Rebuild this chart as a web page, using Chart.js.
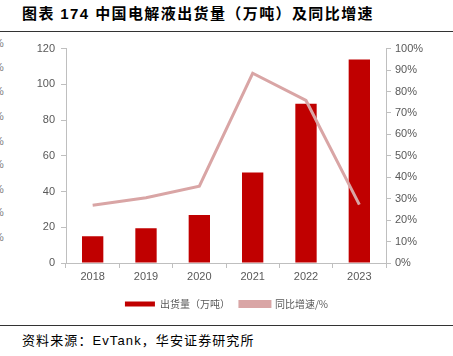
<!DOCTYPE html>
<html><head><meta charset="utf-8">
<script src="https://cdn.jsdelivr.net/npm/chart.js@4/dist/chart.umd.min.js"></script>
<style>
html,body{margin:0;padding:0;background:#fff;width:453px;height:356px;overflow:hidden;position:relative;font-family:"Liberation Sans","Noto Sans CJK SC",sans-serif;}
#title{position:absolute;left:22px;top:2px;font-size:15px;font-weight:bold;color:#000;font-family:"Liberation Sans","Noto Sans CJK SC",sans-serif;letter-spacing:1.4px;white-space:nowrap;}
#rule1{position:absolute;left:0;top:31px;width:453px;height:1px;background:#333;}
#rule2{position:absolute;left:0;top:325px;width:453px;height:1px;background:#333;}
#src{position:absolute;left:22px;top:330px;font-size:13px;color:#000;white-space:nowrap;letter-spacing:1.1px;font-family:"Liberation Sans","Noto Sans CJK SC",sans-serif;}
#wrap{position:absolute;left:0;top:36px;width:453px;height:284px;}
.pct{position:absolute;left:-6px;font-size:11px;color:#808080;}
</style></head><body>
<div id="title">图表 174 中国电解液出货量（万吨）及同比增速</div>
<div id="rule1"></div>
<div id="pcts"></div>
<div id="wrap"><canvas id="c" width="453" height="284"></canvas></div>
<div id="rule2"></div>
<div id="src">资料来源：EvTank，华安证券研究所</div>
<script>
const categories = ['2018','2019','2020','2021','2022','2023'];
const shipment = [15, 19.5, 26.8, 50.6, 89.2, 113.9];
const growth = [0.269, 0.304, 0.358, 0.885, 0.758, 0.272];
const shipmentLabel = '出货量（万吨）';
const growthLabel = '同比增速/%';

// cut-off fragments at left edge
const pctYs = [37,61,85,110,135,158,183,206,231];
const pc = document.getElementById('pcts');
pctYs.forEach(y=>{const d=document.createElement('div');d.className='pct';d.style.top=y+'px';d.textContent='%';pc.appendChild(d);});

const axisColor = '#bfbfbf';
const tickFont = {family:'Liberation Sans', size:11};
new Chart(document.getElementById('c'), {
  data: {
    labels: categories,
    datasets: [
      {type:'bar', label: shipmentLabel, data: shipment, backgroundColor:'#c00000', borderWidth:0,
       barPercentage:0.4, categoryPercentage:1, yAxisID:'y', order:2},
      {type:'line', label: growthLabel, data: growth, borderColor:'#d9a5a5', backgroundColor:'#d9a5a5',
       borderWidth:3, pointRadius:0, tension:0, yAxisID:'y1', order:1}
    ]
  },
  options: {
    responsive:false, animation:false,
    layout:{padding:{top:8,left:0,right:0,bottom:1}},
    plugins:{
      legend:{position:'bottom', labels:{boxWidth:30, boxHeight:5, font:{family:'Noto Sans CJK SC', size:10}, color:'#595959', padding:10,
        sort:(a,b)=>a.datasetIndex-b.datasetIndex}},
      tooltip:{enabled:false}
    },
    scales:{
      x:{grid:{drawOnChartArea:false, tickLength:5, color:axisColor, offset:true},
         border:{color:axisColor, width:1},
         ticks:{font:tickFont, color:'#595959', padding:2},
         afterFit:s=>{s.height=26;}},
      y:{position:'left', min:0, max:120, ticks:{stepSize:20, font:tickFont, color:'#595959', padding:6},
         grid:{drawOnChartArea:false, tickLength:5, color:axisColor},
         border:{color:axisColor, width:1},
         afterFit:s=>{s.width=66;}},
      y1:{position:'right', min:0, max:1, ticks:{stepSize:0.1, font:tickFont, color:'#595959', padding:4,
           callback:v=>Math.round(v*100)+'%'},
         grid:{drawOnChartArea:false, tickLength:5, color:axisColor},
         border:{color:axisColor, width:1},
         afterFit:s=>{s.width=67;}}
    }
  }
});
</script>
</body></html>
